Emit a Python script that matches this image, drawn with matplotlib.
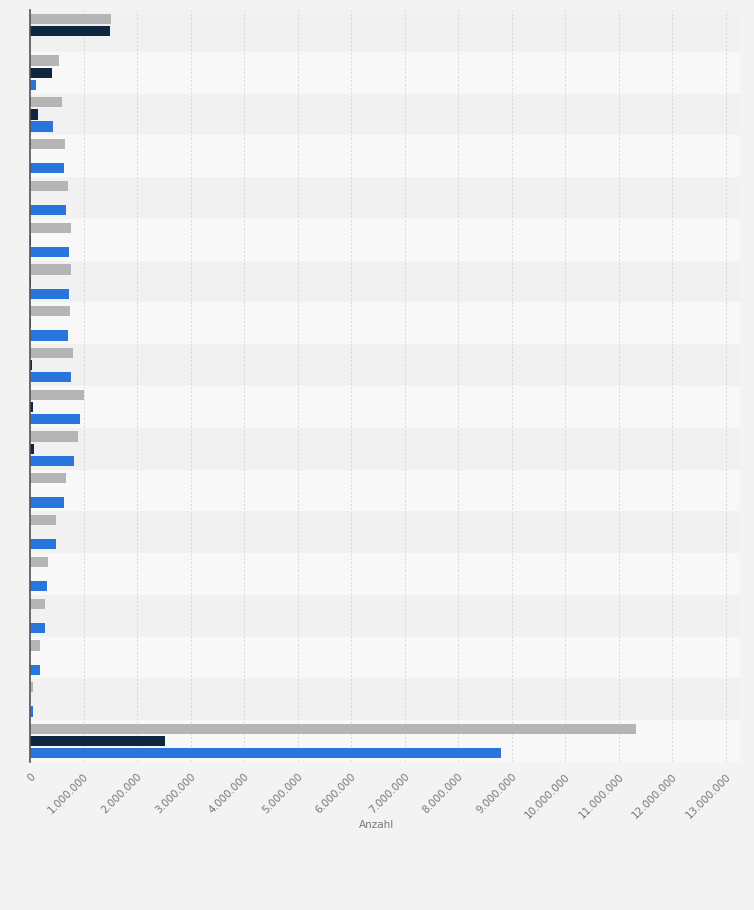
import numpy as np
import matplotlib.pyplot as plt
from matplotlib.ticker import FuncFormatter

# Werte in Mio.
gesamt = [1.51, 0.54, 0.60, 0.65, 0.71, 0.77, 0.77, 0.75, 0.80, 1.01,
          0.90, 0.67, 0.49, 0.34, 0.28, 0.19, 0.06, 11.33]
teil_dunkel = [1.50, 0.41, 0.15, 0.0, 0.0, 0.02, 0.02, 0.02, 0.04, 0.06,
               0.08, 0.0, 0.0, 0.0, 0.0, 0.0, 0.0, 2.52]
teil_blau = [0.0, 0.11, 0.43, 0.64, 0.67, 0.73, 0.73, 0.71, 0.77, 0.93,
             0.82, 0.64, 0.49, 0.32, 0.28, 0.19, 0.06, 8.80]
x_ticks = np.arange(0, 14) * 1e6

cor_cinza = '#b5b5b5'
cor_escura = '#0f2641'
cor_azul = '#2876dd'

n = len(gesamt)
y = np.arange(n)

fig = plt.figure(figsize=(7.54, 9.10), dpi=100)
fig.patch.set_facecolor('#f3f3f3')
ax = fig.add_axes([30 / 754, 1 - 762 / 910, 710 / 754, 752 / 910])
ax.set_facecolor('#f8f8f8')

# faixas alternadas
for i in range(n):
    cor = '#f1f1f1' if i % 2 == 0 else '#f8f8f8'
    ax.axhspan(i - 0.5, i + 0.5, color=cor, zorder=0, lw=0)

h = 0.245
ax.barh(y - 0.29, np.array(gesamt) * 1e6, height=h, color=cor_cinza, zorder=3)
ax.barh(y, np.array(teil_dunkel) * 1e6, height=h, color=cor_escura, zorder=3)
ax.barh(y + 0.29, np.array(teil_blau) * 1e6, height=h, color=cor_azul, zorder=3)

ax.set_ylim(n - 0.5, -0.5)
ax.set_xlim(0, 13.27e6)
ax.set_yticks([])
ax.set_xticks(x_ticks)
ax.xaxis.set_major_formatter(FuncFormatter(lambda v, p: f'{int(v):,}'.replace(',', '.')))
ax.tick_params(axis='x', length=0, labelsize=7.5, labelcolor='#777777', pad=7)
for lab in ax.get_xticklabels():
    lab.set_rotation(45)
    lab.set_ha('right')
    lab.set_rotation_mode('anchor')

ax.grid(axis='x', color='#d6d6d6', linestyle=(0, (2, 2)), linewidth=0.7, zorder=1)
for s in ['top', 'right', 'bottom']:
    ax.spines[s].set_visible(False)
ax.spines['left'].set_color('#555555')
ax.spines['left'].set_linewidth(1.2)
ax.spines['left'].set_zorder(4)

fig.text(377 / 754, 1 - 825 / 910, 'Anzahl', ha='center', va='center',
         fontsize=7.5, color='#777777')

plt.savefig('out.png', dpi=100, facecolor=fig.get_facecolor())
